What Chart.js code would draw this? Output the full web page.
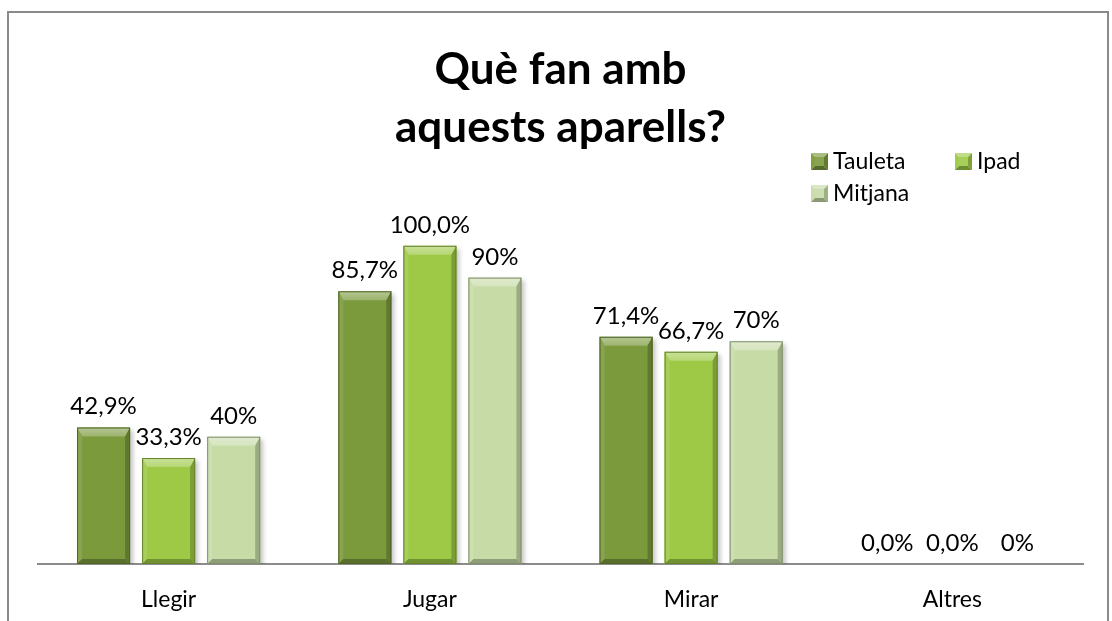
<!DOCTYPE html>
<html lang="ca">
<head>
<meta charset="utf-8">
<title>Què fan amb aquests aparells?</title>
<script src="https://cdn.jsdelivr.net/npm/chart.js@4.4.1/dist/chart.umd.min.js"></script>
<style>
  html, body { margin: 0; padding: 0; background: #ffffff; }
  #wrap { position: relative; width: 1112px; height: 621px; }
</style>
</head>
<body>
<div id="wrap"><canvas id="chart"></canvas></div>
<script>
// --- data ---
const categories = ['Llegir', 'Jugar', 'Mirar', 'Altres'];
const seriesNames = ['Tauleta', 'Ipad', 'Mitjana'];
const tauletaValues = [42.9, 85.7, 71.4, 0];
const ipadValues = [33.3, 100.0, 66.7, 0];
const mitjanaValues = [40, 90, 70, 0];
const labelDecimals = [1, 1, 0];
const titleLines = ['Què fan amb', 'aquests aparells?'];

// --- styles ---
const faceColors = ['#7B9A3C', '#9DC946', '#C7DBA7'];
const FONT = 'Lato, "Open Sans", sans-serif';

function hexToRgb(h) {
  const n = parseInt(h.slice(1), 16);
  return [(n >> 16) & 255, (n >> 8) & 255, n & 255];
}
function shade(hex, t) {
  // t > 0 mixes toward white, t < 0 toward black
  const c = hexToRgb(hex);
  const target = t > 0 ? 255 : 0;
  const a = Math.abs(t);
  const r = c.map(v => Math.round(v + (target - v) * a));
  return `rgb(${r[0]},${r[1]},${r[2]})`;
}
function poly(ctx, pts, fill) {
  ctx.beginPath();
  ctx.moveTo(pts[0][0], pts[0][1]);
  for (let i = 1; i < pts.length; i++) ctx.lineTo(pts[i][0], pts[i][1]);
  ctx.closePath();
  ctx.fillStyle = fill;
  ctx.fill();
}
function barBox(bar) {
  const p = bar.getProps(['x', 'y', 'width', 'base'], true);
  return { L: p.x - p.width / 2, R: p.x + p.width / 2, T: Math.min(p.y, p.base), B: Math.max(p.y, p.base), cx: p.x };
}

// soft drop shadow behind each bar
const barShadow = {
  id: 'barShadow',
  beforeDatasetsDraw(chart) {
    const ctx = chart.ctx, a = chart.chartArea;
    ctx.save();
    ctx.beginPath();
    ctx.rect(a.left, a.top - 40, a.right - a.left, a.bottom - a.top + 40);
    ctx.clip();
    ctx.filter = 'blur(2px)';
    ctx.fillStyle = 'rgba(0,0,0,0.22)';
    chart.data.datasets.forEach((ds, i) => {
      chart.getDatasetMeta(i).data.forEach(bar => {
        const b = barBox(bar);
        if (b.B - b.T < 2) return;
        ctx.fillRect(b.L + 3, b.T + 3, b.R - b.L, b.B - b.T);
      });
    });
    ctx.restore();
  }
};

// bevelled edges on each bar
const barBevel = {
  id: 'barBevel',
  afterDatasetsDraw(chart) {
    const ctx = chart.ctx;
    ctx.save();
    chart.data.datasets.forEach((ds, i) => {
      const face = faceColors[i];
      chart.getDatasetMeta(i).data.forEach(bar => {
        const { L, R, T, B } = barBox(bar);
        const h = B - T;
        if (h < 2) return;
        const bt = Math.min(9, h / 2), bs = Math.min(5, h / 2);
        const g = ctx.createLinearGradient(0, T, 0, T + bt);
        g.addColorStop(0, shade(face, 0.45));
        g.addColorStop(1, shade(face, 0.25));
        poly(ctx, [[L, T], [R, T], [R - bs, T + bt], [L + bs, T + bt]], g);
        poly(ctx, [[L, T], [L + bs, T + bt], [L + bs, B - bs], [L, B]], shade(face, 0.1));
        poly(ctx, [[R, T], [R - bs, T + bt], [R - bs, B - bs], [R, B]], shade(face, -0.22));
        poly(ctx, [[L, B], [L + bs, B - bs], [R - bs, B - bs], [R, B]], shade(face, -0.28));
        ctx.strokeStyle = shade(face, -0.35);
        ctx.lineWidth = 1;
        ctx.strokeRect(L + 0.5, T + 0.5, R - L - 1, h - 1);
      });
    });
    ctx.restore();
  }
};

// value labels above bars
const valueLabels = {
  id: 'valueLabels',
  afterDatasetsDraw(chart) {
    const ctx = chart.ctx;
    ctx.save();
    ctx.font = `24px ${FONT}`;
    ctx.fillStyle = '#000000';
    ctx.textAlign = 'center';
    ctx.textBaseline = 'alphabetic';
    chart.data.datasets.forEach((ds, i) => {
      chart.getDatasetMeta(i).data.forEach((bar, j) => {
        const b = barBox(bar);
        const txt = ds.data[j].toFixed(labelDecimals[i]).replace('.', ',') + '%';
        ctx.fillText(txt, b.cx, b.T - 13);
      });
    });
    ctx.restore();
  }
};

// legend with pyramid markers, plus the outer frame
const legendAndFrame = {
  id: 'legendAndFrame',
  afterDraw(chart) {
    const ctx = chart.ctx;
    ctx.save();
    const spots = [[811, 153], [955, 153], [811, 185]];
    chart.data.datasets.forEach((ds, i) => {
      const [x, y] = spots[i];
      const s = 17, c = faceColors[i];
      const mx = x + s / 2, my = y + s / 2;
      poly(ctx, [[x, y], [x + s, y], [mx, my]], shade(c, 0.35));
      poly(ctx, [[x, y], [mx, my], [x, y + s]], shade(c, 0.05));
      poly(ctx, [[x + s, y], [x + s, y + s], [mx, my]], shade(c, -0.2));
      poly(ctx, [[x, y + s], [mx, my], [x + s, y + s]], shade(c, -0.3));
      ctx.fillStyle = shade(c, 0.1);
      ctx.fillRect(x + 4, y + 4, s - 8, s - 8);
      ctx.font = `23px ${FONT}`;
      ctx.fillStyle = '#000000';
      ctx.textAlign = 'left';
      ctx.textBaseline = 'middle';
      ctx.fillText(ds.label, x + 22, my);
    });
    ctx.strokeStyle = '#8a8a8a';
    ctx.lineWidth = 2;
    ctx.beginPath();
    ctx.moveTo(8, 640);
    ctx.lineTo(8, 12);
    ctx.lineTo(1108, 12);
    ctx.lineTo(1108, 640);
    ctx.stroke();
    ctx.restore();
  }
};

const whiteBg = {
  id: 'whiteBg',
  beforeDraw(chart) {
    const ctx = chart.ctx;
    ctx.save();
    ctx.fillStyle = '#ffffff';
    ctx.fillRect(0, 0, chart.width, chart.height);
    ctx.restore();
  }
};

const seriesValues = [tauletaValues, ipadValues, mitjanaValues];

new Chart(document.getElementById('chart'), {
  type: 'bar',
  data: {
    labels: categories,
    datasets: seriesNames.map((name, i) => ({
      label: name,
      data: seriesValues[i],
      backgroundColor: faceColors[i],
      borderWidth: 0,
      categoryPercentage: 0.747,
      barPercentage: 0.815
    }))
  },
  options: {
    responsive: true,
    maintainAspectRatio: false,
    animation: false,
    layout: { padding: { left: 38, right: 29, top: 0, bottom: 0 } },
    plugins: {
      legend: { display: false },
      tooltip: { enabled: false },
      title: {
        display: true,
        text: titleLines,
        color: '#000000',
        font: { family: FONT, size: 44, weight: 'bold', lineHeight: 1.32 },
        padding: { top: 41, bottom: 25 }
      }
    },
    scales: {
      x: {
        grid: { display: false, drawTicks: false },
        border: { display: true, color: '#8c8c8c', width: 2 },
        ticks: { color: '#000000', font: { family: FONT, size: 23 }, padding: 22, maxRotation: 0 },
        afterFit(scale) { scale.height = 57; }
      },
      y: {
        display: false,
        min: 0,
        max: 120
      }
    }
  },
  plugins: [whiteBg, barShadow, barBevel, valueLabels, legendAndFrame]
});
</script>
</body>
</html>
